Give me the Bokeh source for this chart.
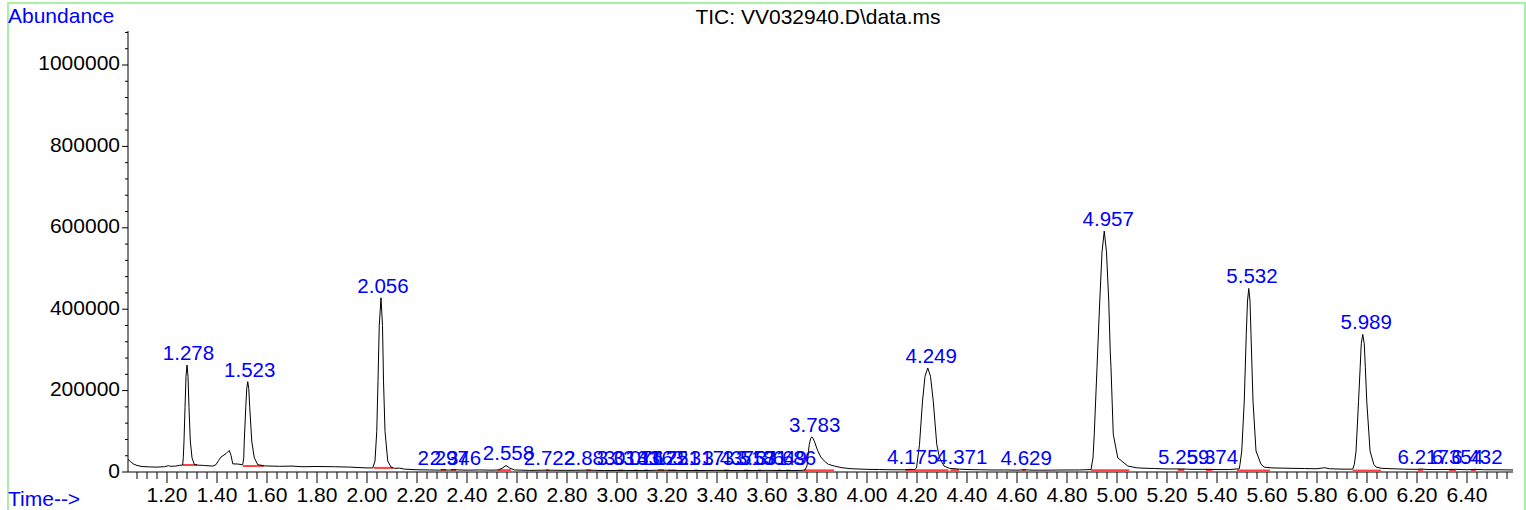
from bokeh.plotting import figure
from bokeh.models import Range1d, ColumnDataSource
from bokeh.core.properties import value
from bokeh.embed import file_html
from bokeh.resources import INLINE

# ---------------- data ----------------
trace_time = [
    1.044, 1.055, 1.065, 1.080, 1.100, 1.130, 1.160, 1.190, 1.205, 1.215, 1.235, 1.250,
    1.2625, 1.2652, 1.268, 1.272, 1.276, 1.280, 1.284, 1.288, 1.2932, 1.300, 1.309, 1.320,
    1.350, 1.383, 1.396, 1.406, 1.416, 1.436, 1.449, 1.456, 1.463, 1.483, 1.500,
    1.503, 1.507, 1.509, 1.515, 1.519, 1.523, 1.527, 1.531, 1.539, 1.549, 1.563,
    1.590, 1.650, 1.700, 1.740, 1.800, 1.870, 1.930, 2.000,
    2.023, 2.032, 2.039, 2.044, 2.049, 2.056, 2.062, 2.066, 2.072, 2.083, 2.096,
    2.110, 2.130, 2.150, 2.200, 2.250, 2.290, 2.305, 2.325, 2.345, 2.400, 2.450, 2.500,
    2.525, 2.540, 2.556, 2.570, 2.590, 2.650, 2.720, 2.800, 2.885, 2.950, 3.015, 3.100,
    3.175, 3.220, 3.300, 3.400, 3.500, 3.600, 3.700, 3.740,
    3.752, 3.760, 3.769, 3.775, 3.779, 3.784, 3.789, 3.803, 3.815, 3.829, 3.845, 3.869,
    3.900, 3.936, 4.000, 4.050, 4.100, 4.150, 4.175, 4.190,
    4.198, 4.210, 4.222, 4.232, 4.243, 4.254, 4.265, 4.279, 4.290, 4.308, 4.330, 4.370,
    4.400, 4.450, 4.500, 4.550, 4.600, 4.630, 4.660, 4.720, 4.800, 4.850,
    4.896, 4.904, 4.909, 4.920, 4.9225, 4.931, 4.940, 4.949, 4.958, 4.967, 4.973, 4.976,
    4.985, 5.003, 5.043, 5.077, 5.100, 5.150, 5.200, 5.259, 5.300, 5.374, 5.400, 5.450,
    5.489, 5.492, 5.499, 5.509, 5.517, 5.522, 5.527, 5.532, 5.536, 5.544, 5.556, 5.576,
    5.589, 5.620, 5.660, 5.700, 5.750, 5.800, 5.830, 5.850, 5.900,
    5.943, 5.9494, 5.9562, 5.9662, 5.9726, 5.977, 5.983, 5.989, 5.9934, 5.999, 6.0122,
    6.027, 6.0362, 6.060, 6.100, 6.150, 6.200, 6.217, 6.240, 6.300, 6.354, 6.400, 6.432,
    6.470, 6.520, 6.584,
]
trace_abundance = [
    31000, 25000, 20000, 16000, 13500, 12500, 12000, 13000, 15500, 14000, 14500, 16500,
    17000, 35000, 76000, 158000, 235000, 263000, 235000, 158000, 76000, 35000, 19000, 17000,
    16000, 14500, 18000, 28000, 36800, 45000, 53000, 41000, 20000, 19600, 18000,
    18500, 35000, 76000, 158000, 205000, 222000, 205000, 158000, 76000, 35000, 18000,
    15000, 14000, 14500, 13000, 13500, 13000, 12000, 10000,
    10000, 27000, 100000, 224000, 360000, 428000, 360000, 224000, 100000, 27000, 12000,
    9000, 9500, 7000, 5500, 5000, 4500, 5500, 4500, 5500, 4500, 5000, 4500,
    5000, 9000, 16000, 10000, 5000, 4000, 4500, 4000, 4500, 3500, 4000, 3500,
    4500, 4000, 3500, 4000, 3500, 4000, 3500, 4000,
    5000, 15000, 68000, 83000, 86000, 83000, 76000, 52000, 37000, 27000, 19000, 14700,
    10500, 8000, 6500, 6000, 5500, 5500, 6500, 6000,
    10000, 68000, 174000, 235000, 255500, 235000, 174000, 68000, 35000, 14700, 9000, 7000,
    6000, 5500, 5000, 5000, 4500, 5500, 4500, 4500, 5000, 5000,
    6000, 35000, 92600, 256000, 295000, 420000, 540000, 592000, 540000, 420000, 295000, 256000,
    92600, 35000, 14700, 10500, 9500, 8500, 7500, 7500, 6500, 6500, 6000, 6000,
    8000, 19000, 51600, 174000, 338000, 420000, 451000, 420000, 338000, 174000, 51600, 19000,
    12000, 10000, 9500, 9000, 8500, 8000, 10500, 8000, 7000,
    7000, 19000, 51600, 174000, 256000, 315000, 338000, 315000, 256000, 174000, 51600,
    19000, 12000, 9000, 8000, 7000, 6500, 7500, 6000, 6000, 6500, 5500, 6500,
    5500, 5500, 5000,
]

peak_labels = ["1.278", "1.523", "2.056", "2.297", "2.346", "2.558", "2.722", "2.883",
               "3.014", "3.076", "3.116", "3.175", "3.221", "3.317", "3.437", "3.518",
               "3.571", "3.649", "3.686", "3.783", "4.175", "4.249", "4.371", "4.629",
               "4.957", "5.259", "5.374", "5.532", "5.989", "6.217", "6.354", "6.432"]
peak_tops = [263000, 222000, 428000, 5000, 5000, 16000, 4500, 4500,
             4000, 4000, 4000, 4500, 4000, 4000, 4000, 4000,
             4000, 4000, 4000, 86000, 6500, 255500, 7000, 5500,
             592000, 7500, 6500, 451000, 338000, 7500, 6500, 6500]

integ_start = [1.263, 1.503, 2.027, 2.296, 2.336, 2.523, 2.716, 2.876, 3.004, 3.068, 3.108,
               3.164, 3.204, 3.308, 3.428, 3.508, 3.564, 3.643, 3.676, 3.748, 4.152, 4.187,
               4.334, 4.620, 4.896, 5.243, 5.356, 5.480, 5.943, 6.204, 6.328, 6.416]
integ_end = [1.320, 1.587, 2.104, 2.316, 2.356, 2.576, 2.729, 2.896, 3.024, 3.084, 3.124,
             3.188, 3.236, 3.324, 3.448, 3.528, 3.576, 3.656, 3.696, 3.868, 4.187, 4.326,
             4.368, 4.636, 5.049, 5.269, 5.382, 5.612, 6.056, 6.224, 6.356, 6.436]
integ_level = [17000, 15000, 10000, 5000, 5000, 4500, 4000, 4000, 3500, 3500, 3500,
               4000, 3500, 3500, 3500, 3500, 3500, 3500, 3500, 4000, 4500, 4500,
               4500, 4000, 4000, 5000, 5000, 3500, 3500, 4500, 4500, 4500]

x_tick_values = [1.2, 1.4, 1.6, 1.8, 2.0, 2.2, 2.4, 2.6, 2.8, 3.0, 3.2, 3.4,
                 3.6, 3.8, 4.0, 4.2, 4.4, 4.6, 4.8, 5.0, 5.2, 5.4, 5.6, 5.8, 6.0, 6.2, 6.4]
x_tick_labels = ["1.20", "1.40", "1.60", "1.80", "2.00", "2.20", "2.40", "2.60", "2.80",
                 "3.00", "3.20", "3.40", "3.60", "3.80", "4.00", "4.20", "4.40", "4.60",
                 "4.80", "5.00", "5.20", "5.40", "5.60", "5.80", "6.00", "6.20", "6.40"]
y_tick_values = [0, 200000, 400000, 600000, 800000, 1000000]
y_tick_labels = ["0", "200000", "400000", "600000", "800000", "1000000"]

x_axis_span = [1.044, 6.584]        # time range shown on the axis
y_axis_span = [0, 1083537]          # abundance range shown on the axis

title_text = "TIC: VV032940.D\\data.ms"
y_title = "Abundance"
x_title = "Time-->"

# ---------------- figure ----------------
FONT = "Liberation Sans"
BLUE = "#0000ff"
W, H = 1519, 508
X_MIN, PX = 0.562, 1 / 250.0          # minutes per pixel
Y_MIN, PY = -94594.5, 2457.0          # abundance per pixel

p = figure(width=W, height=H, output_backend="svg", toolbar_location=None,
           x_range=Range1d(X_MIN, X_MIN + W * PX), y_range=Range1d(Y_MIN, Y_MIN + H * PY),
           x_axis_location=None, y_axis_location=None, min_border=0)
p.styles = {"margin-left": "7px", "margin-top": "2px", "background-color": "white",
            "box-shadow": "inset 2px 0 0 #a8f0a8, inset 0 2px 0 #a8f0a8, inset -2px 0 0 #a8f0a8"}
p.background_fill_color = None
p.border_fill_color = None
p.outline_line_color = None
p.grid.visible = False

AX = x_axis_span[0]

# ----- axes drawn through the plot's scales -----
x_minor = [round(1.08 + 0.04 * i, 2) for i in range(138)]
x_minor = [v for v in x_minor if all(abs(v - t) > 1e-6 for t in x_tick_values)]
y_minor = [40000 * i for i in range(1, 28) if (40000 * i) % 200000 != 0]

# axis lines
p.segment(x0=[AX, AX], y0=[y_axis_span[0], 0], x1=[AX, x_axis_span[1]], y1=[y_axis_span[1], 0],
          line_color="black", line_width=1)
# x ticks
p.segment(x0=x_tick_values, y0=[0] * len(x_tick_values), x1=x_tick_values,
          y1=[-11 * PY] * len(x_tick_values), line_color="black", line_width=1)
p.segment(x0=x_minor, y0=[0] * len(x_minor), x1=x_minor,
          y1=[-7 * PY] * len(x_minor), line_color="black", line_width=1)
# y ticks
p.segment(x0=[AX] * len(y_tick_values), y0=y_tick_values, x1=[AX - 6 * PX] * len(y_tick_values),
          y1=y_tick_values, line_color="black", line_width=1)
p.segment(x0=[AX] * len(y_minor), y0=y_minor, x1=[AX - 3 * PX] * len(y_minor),
          y1=y_minor, line_color="black", line_width=1)
# tick labels
p.text(x=x_tick_values, y=[0] * len(x_tick_values), text=x_tick_labels,
       text_font=value(FONT), text_font_size="21px", text_color="black",
       text_align="center", text_baseline="alphabetic", y_offset=23)
p.text(x=[AX] * len(y_tick_values), y=y_tick_values, text=y_tick_labels,
       text_font=value(FONT), text_font_size="21px", text_color="black",
       text_align="right", text_baseline="middle", x_offset=-8, y_offset=-1.5)

# integration baselines
p.segment(x0=integ_start, y0=integ_level, x1=integ_end, y1=integ_level,
          line_color="#ff4040", line_width=2)

# trace
p.line(trace_time, trace_abundance, line_color="black", line_width=1)

# peak labels
src = ColumnDataSource(dict(x=[float(s) for s in peak_labels], y=peak_tops, text=peak_labels))
p.text(x="x", y="y", text="text", source=src, text_font=value(FONT),
       text_font_size="20.5px", text_color=BLUE, text_align="center",
       text_baseline="alphabetic", x_offset=2, y_offset=-12)

# texts around the plot
p.text(x=[X_MIN + 0.5 * PX], y=[1105000], text=[y_title], text_font=value(FONT),
       text_font_size="21px", text_color=BLUE, text_align="left", text_baseline="alphabetic",
       y_offset=-7)
p.text(x=[X_MIN + 0.5 * PX], y=[-82300], text=[x_title], text_font=value(FONT),
       text_font_size="21px", text_color=BLUE, text_align="left", text_baseline="alphabetic",
       y_offset=-7)
p.text(x=[3.804], y=[1099500], text=[title_text], text_font=value(FONT),
       text_font_size="21px", text_color="black", text_align="center", text_baseline="alphabetic",
       y_offset=-8)

open("out.html", "w").write(file_html(p, INLINE))
